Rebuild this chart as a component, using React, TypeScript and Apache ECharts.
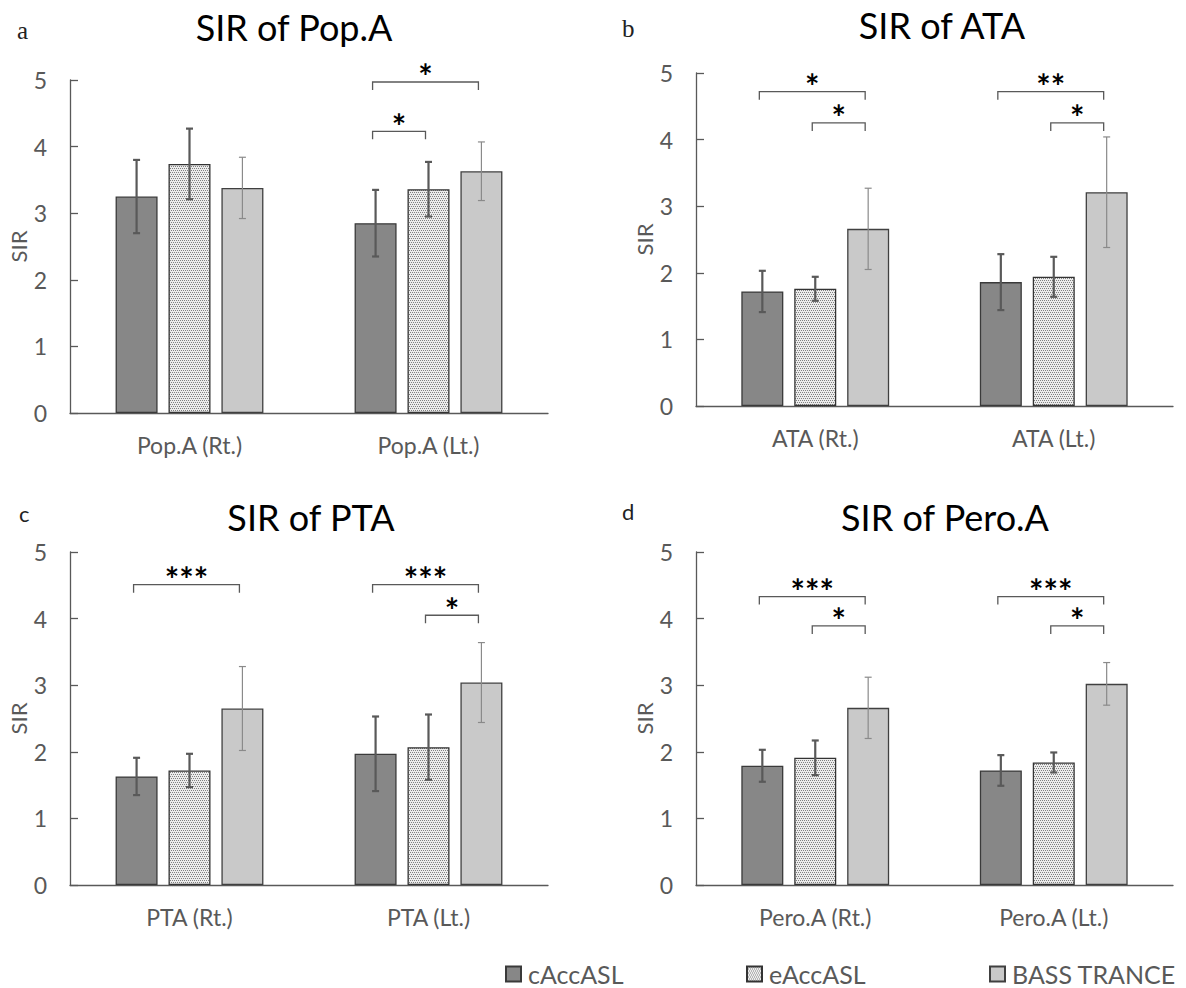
import React, { useEffect, useRef } from 'react';
import * as echarts from 'echarts';

// ---------- data ----------
const groupNames = ['cAccASL', 'eAccASL', 'BASS TRANCE'];
const panelTitles = ['SIR of Pop.A', 'SIR of ATA', 'SIR of PTA', 'SIR of Pero.A'];
const panelLetters = ['a', 'b', 'c', 'd'];
const yTicks = [0, 5, 1]; // min, max, interval

const popACategories = ['Pop.A (Rt.)', 'Pop.A (Lt.)'];
const popAMeans = [[3.25, 2.85], [3.74, 3.36], [3.38, 3.63]];
const popASd = [[0.55, 0.5], [0.53, 0.41], [0.46, 0.44]];
const popABrackets: [number, number, number, number, string][] = [
  [1, 0, 2, 4.97, '*'],
  [1, 0, 1, 4.23, '*'],
];

const ataCategories = ['ATA (Rt.)', 'ATA (Lt.)'];
const ataMeans = [[1.72, 1.86], [1.76, 1.94], [2.66, 3.21]];
const ataSd = [[0.31, 0.42], [0.18, 0.3], [0.61, 0.83]];
const ataBrackets: [number, number, number, number, string][] = [
  [0, 0, 2, 4.72, '*'],
  [0, 1, 2, 4.25, '*'],
  [1, 0, 2, 4.72, '**'],
  [1, 1, 2, 4.25, '*'],
];

const ptaCategories = ['PTA (Rt.)', 'PTA (Lt.)'];
const ptaMeans = [[1.63, 1.97], [1.72, 2.07], [2.65, 3.04]];
const ptaSd = [[0.28, 0.56], [0.25, 0.49], [0.63, 0.6]];
const ptaBrackets: [number, number, number, number, string][] = [
  [0, 0, 2, 4.51, '***'],
  [1, 0, 2, 4.51, '***'],
  [1, 1, 2, 4.05, '*'],
];

const peroCategories = ['Pero.A (Rt.)', 'Pero.A (Lt.)'];
const peroMeans = [[1.79, 1.72], [1.91, 1.84], [2.66, 3.02]];
const peroSd = [[0.24, 0.23], [0.26, 0.15], [0.46, 0.32]];
const peroBrackets: [number, number, number, number, string][] = [
  [0, 0, 2, 4.33, '***'],
  [0, 1, 2, 3.89, '*'],
  [1, 0, 2, 4.33, '***'],
  [1, 1, 2, 3.89, '*'],
];

const panelCategories = [popACategories, ataCategories, ptaCategories, peroCategories];
const panelMeans = [popAMeans, ataMeans, ptaMeans, peroMeans];
const panelSd = [popASd, ataSd, ptaSd, peroSd];
const panelBrackets = [popABrackets, ataBrackets, ptaBrackets, peroBrackets];

// ---------- layout / style ----------
const GRIDS = [
  { left: 70, top: 80, width: 478, height: 333 },
  { left: 696, top: 73, width: 477, height: 333 },
  { left: 70, top: 552, width: 478, height: 333 },
  { left: 696, top: 552, width: 477, height: 333 },
];
const TITLE_POS = [[294, 27], [942, 25], [311, 517], [945, 517]];
const LETTER_POS = [[17, 30], [622, 28], [19, 513], [622, 511]];
const LEGEND_LEFT = [505, 746, 989];
const BAR_W = 42;
const BAR_GAP = 0.26;
const STEP = BAR_W * (1 + BAR_GAP);
const AXIS_COLOR = '#595959';
const TEXT_COLOR = '#595959';
const FONT = 'Lato';

function makePattern() {
  const c = document.createElement('canvas');
  c.width = 4;
  c.height = 4;
  const ctx = c.getContext('2d')!;
  ctx.fillStyle = '#ececec';
  ctx.fillRect(0, 0, 4, 4);
  ctx.fillStyle = '#808080';
  [[0, 0], [2, 0], [1, 2], [3, 2]].forEach(([x, y]) => ctx.fillRect(x, y, 1, 1));
  return { image: c, repeat: 'repeat', imageWidth: 4, imageHeight: 4 } as any;
}

export default function App() {
  const ref = useRef<HTMLDivElement>(null);
  useEffect(() => {
    document.body.style.margin = '0';
    const chart = echarts.init(ref.current!, undefined, { renderer: 'svg' });
    const pattern = makePattern();
    const fills = ['#878787', pattern, '#c9c9c9'];
    const borders = ['#3a3a3a', '#333333', '#404040'];

    const grid: any[] = [];
    const xAxis: any[] = [];
    const yAxis: any[] = [];
    const series: any[] = [];
    const graphic: any[] = [];

    GRIDS.forEach((g, p) => {
      grid.push({ ...g, containLabel: false });
      xAxis.push({
        type: 'category',
        gridIndex: p,
        data: panelCategories[p],
        axisLine: { lineStyle: { color: AXIS_COLOR, width: 1.3 } },
        axisTick: { show: false },
        axisLabel: { color: TEXT_COLOR, fontSize: 23, fontFamily: FONT, margin: 20 },
      });
      yAxis.push({
        type: 'value',
        gridIndex: p,
        min: yTicks[0],
        max: yTicks[1],
        interval: yTicks[2],
        name: 'SIR',
        nameLocation: 'middle',
        nameGap: 40,
        nameRotate: 90,
        nameTextStyle: { color: TEXT_COLOR, fontSize: 22, fontFamily: FONT },
        axisLine: { show: true, lineStyle: { color: AXIS_COLOR, width: 1.3 } },
        axisTick: { show: true, inside: true, length: 8, lineStyle: { color: AXIS_COLOR, width: 1.3 } },
        splitLine: { show: false },
        axisLabel: { color: TEXT_COLOR, fontSize: 23, fontFamily: FONT, margin: 23 },
      });

      groupNames.forEach((name, gi) => {
        series.push({
          type: 'bar',
          name,
          xAxisIndex: p,
          yAxisIndex: p,
          barWidth: BAR_W,
          barGap: `${BAR_GAP * 100}%`,
          data: panelMeans[p][gi],
          itemStyle: { color: fills[gi], borderColor: borders[gi], borderWidth: 1.3 },
          z: 2,
        });
      });

      // error bars
      const errData: number[][] = [];
      groupNames.forEach((_, gi) => {
        panelMeans[p][gi].forEach((m, ci) => {
          const sd = panelSd[p][gi][ci];
          errData.push([ci, gi, m - sd, m + sd]);
        });
      });
      series.push({
        type: 'custom',
        xAxisIndex: p,
        yAxisIndex: p,
        z: 4,
        silent: true,
        encode: { x: 0, y: [2, 3] },
        data: errData,
        renderItem: (params: any, api: any) => {
          const cat = api.value(0);
          const gi = api.value(1);
          const top = api.coord([cat, api.value(3)]);
          const bot = api.coord([cat, api.value(2)]);
          const x = top[0] + (gi - 1) * STEP;
          const thin = gi === 2;
          const style = { stroke: thin ? '#8a8a8a' : '#595959', lineWidth: thin ? 1.2 : 2.2 };
          const cap = 3.5;
          return {
            type: 'group',
            children: [
              { type: 'line', shape: { x1: x, y1: top[1], x2: x, y2: bot[1] }, style },
              { type: 'line', shape: { x1: x - cap, y1: top[1], x2: x + cap, y2: top[1] }, style },
              { type: 'line', shape: { x1: x - cap, y1: bot[1], x2: x + cap, y2: bot[1] }, style },
            ],
          };
        },
      });

      // significance brackets
      const br = panelBrackets[p];
      series.push({
        type: 'custom',
        xAxisIndex: p,
        yAxisIndex: p,
        z: 5,
        silent: true,
        encode: { x: 0, y: 3 },
        data: br.map((b) => [b[0], b[1], b[2], b[3]]),
        renderItem: (params: any, api: any) => {
          const cat = api.value(0);
          const pt = api.coord([cat, api.value(3)]);
          const x1 = pt[0] + (api.value(1) - 1) * STEP - 3;
          const x2 = pt[0] + (api.value(2) - 1) * STEP - 3;
          const y = pt[1];
          const leg = 8;
          const label = br[params.dataIndex][4];
          return {
            type: 'group',
            children: [
              {
                type: 'polyline',
                shape: { points: [[x1, y + leg], [x1, y], [x2, y], [x2, y + leg]] },
                style: { stroke: '#595959', lineWidth: 1.3, fill: 'none' },
              },
              {
                type: 'text',
                x: (x1 + x2) / 2,
                y: y - 6,
                style: {
                  text: label,
                  fill: '#000',
                  font: `bold 34px ${FONT}`,
                  align: 'center',
                  verticalAlign: 'middle',
                  textAlign: 'center',
                  textVerticalAlign: 'middle',
                },
              },
            ],
          };
        },
      });

      graphic.push({
        type: 'text',
        x: TITLE_POS[p][0],
        y: TITLE_POS[p][1],
        style: {
          text: panelTitles[p],
          fill: '#000',
          font: `36px ${FONT}`,
          align: 'center',
          verticalAlign: 'middle',
          textAlign: 'center',
          textVerticalAlign: 'middle',
        },
      });
      const serif = p < 2;
      graphic.push({
        type: 'text',
        x: LETTER_POS[p][0],
        y: LETTER_POS[p][1],
        style: {
          text: panelLetters[p],
          fill: '#222',
          font: serif ? '25px "Liberation Serif"' : `22px ${FONT}`,
          align: 'left',
          verticalAlign: 'middle',
          textAlign: 'left',
          textVerticalAlign: 'middle',
        },
      });
    });

    const legend = groupNames.map((name, i) => ({
      data: [name],
      left: LEGEND_LEFT[i],
      top: 960,
      padding: 0,
      icon: 'rect',
      itemWidth: 15,
      itemHeight: 15,
      itemGap: 0,
      selectedMode: false,
      textStyle: { color: TEXT_COLOR, fontSize: 25, fontFamily: FONT, padding: [0, 0, 0, 2], lineHeight: 28 },
    }));

    chart.setOption({
      animation: false,
      backgroundColor: '#fff',
      textStyle: { fontFamily: FONT },
      grid,
      xAxis,
      yAxis,
      series,
      legend,
      graphic,
    });
    return () => chart.dispose();
  }, []);
  return <div ref={ref} style={{ width: 1186, height: 988 }} />;
}
